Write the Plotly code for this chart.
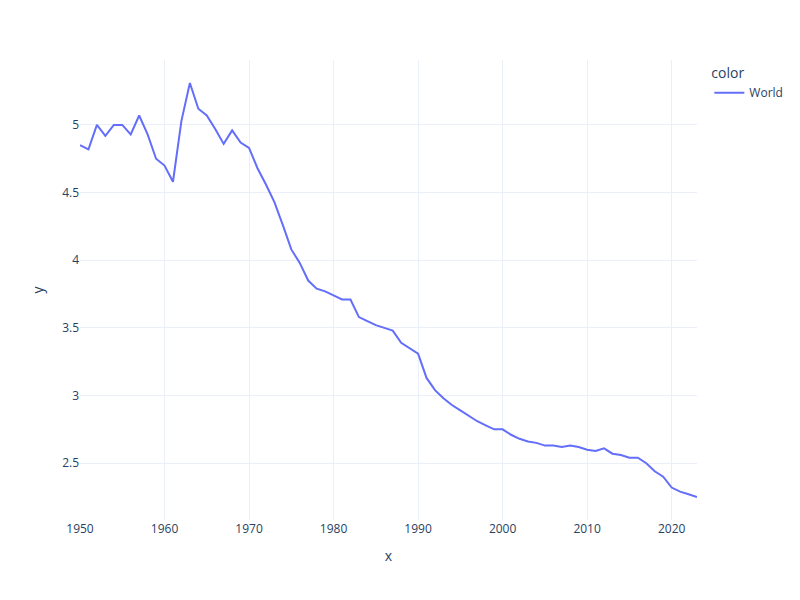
import plotly.express as px

# World fertility rate
years = list(range(1950, 2024))
fertility = [
    4.85, 4.82, 5.00, 4.92, 5.00, 5.00, 4.93, 5.07, 4.93, 4.75,
    4.70, 4.58, 5.03, 5.31, 5.12, 5.07, 4.97, 4.86, 4.96, 4.87,
    4.83, 4.68, 4.56, 4.43, 4.26, 4.08, 3.98, 3.85, 3.79, 3.77,
    3.74, 3.71, 3.71, 3.58, 3.55, 3.52, 3.50, 3.48, 3.39, 3.35,
    3.31, 3.13, 3.04, 2.98, 2.93, 2.89, 2.85, 2.81, 2.78, 2.75,
    2.75, 2.71, 2.68, 2.66, 2.65, 2.63, 2.63, 2.62, 2.63, 2.62,
    2.60, 2.59, 2.61, 2.57, 2.56, 2.54, 2.54, 2.50, 2.44, 2.40,
    2.32, 2.29, 2.27, 2.25,
]
entity = ["World"] * len(years)

fig = px.line(x=years, y=fertility, color=entity, template="plotly_white")
fig.update_layout(width=800, height=600)

# page body has no margin in the reference, so drop the browser's default 8px
fig.write_html("out.html", config={"displayModeBar": False},
               post_script="document.body.style.margin='0';")
